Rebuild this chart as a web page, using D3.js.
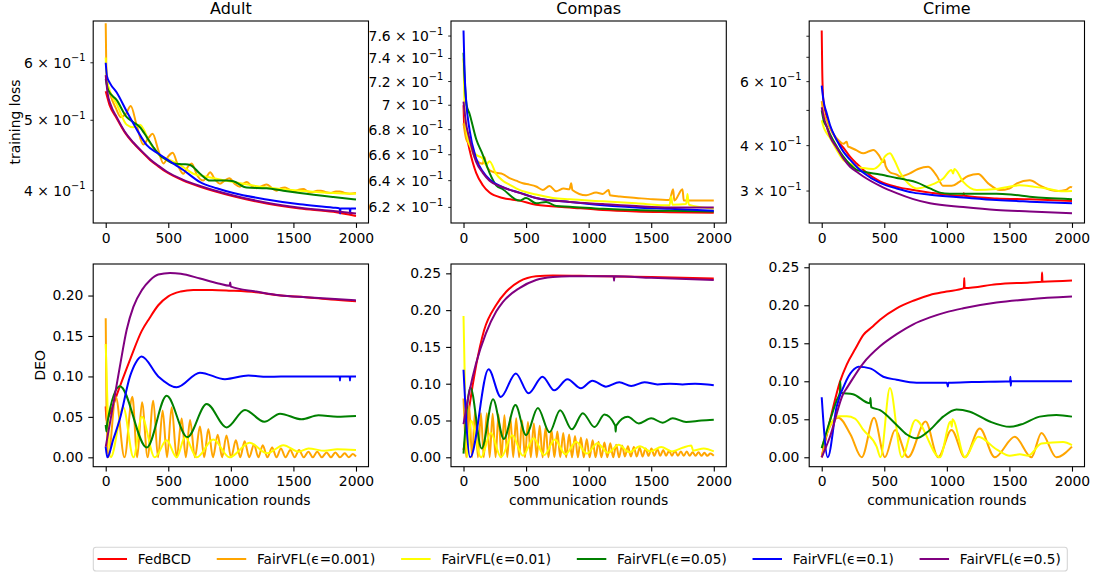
<!DOCTYPE html>
<html lang="en">
<head>
<meta charset="UTF-8">
<script src="https://d3js.org/d3.v7.min.js"></script>
<title>FairVFL</title>
<style>
  body { margin: 0; background: #fff; }
  text { font-family: "DejaVu Sans", sans-serif; fill: #000; }
</style>
</head>
<body>
<script>
  // legend names, panel titles, tick values / labels
  const methods = ['FedBCD', 'FairVFL(\u03f5=0.001)', 'FairVFL(\u03f5=0.01)', 'FairVFL(\u03f5=0.05)', 'FairVFL(\u03f5=0.1)', 'FairVFL(\u03f5=0.5)']
  const datasets = ['Adult', 'Compas', 'Crime']
  const roundTicks = [0, 500, 1000, 1500, 2000]
  const adultLossTicks = [0.4, 0.5, 0.6]
  const adultLossLabels = ['4', '5', '6']
  const compasLossTicks = [0.62, 0.64, 0.66, 0.68, 0.70, 0.72, 0.74, 0.76]
  const compasLossLabels = ['6.2', '6.4', '6.6', '6.8', '7', '7.2', '7.4', '7.6']
  const crimeLossTicks = [0.3, 0.4, 0.5, 0.6, 0.7, 0.8]
  const crimeLossLabels = ['3', '4', '', '6', '', '']
  const adultDeoTicks = [0, 0.05, 0.10, 0.15, 0.20]
  const deoTicks = [0, 0.05, 0.10, 0.15, 0.20, 0.25]

  // ---- training loss, [round, value] ----
  const adultLossFed = [[0,.548],[30,.525],[88,.503],[150,.482],[221,.465],[290,.452],[354,.441],[420,.432],[487,.424],[620,.413],[754,.405],[1020,.393],[1286,.384],[1552,.378],[1819,.374],[2000,.369]]
  const adultLossEps0001 = [[0,.68],[4,.6],[12,.565],[40,.54],[80,.52],[120,.505],[160,.51],[200,.523],[250,.49],[301,.463],[340,.472],[375,.479],[420,.455],[461,.436],[500,.446],[535,.451],[580,.432],[620,.422],[655,.431],[687,.436],[730,.42],[780,.413],[810,.419],[834,.424],[875,.414],[913,.409],[950,.413],[988,.416],[1030,.409],[1073,.405],[1100,.409],[1126,.411],[1166,.406],[1206,.403],[1250,.406],[1286,.408],[1330,.403],[1366,.4],[1400,.403],[1433,.404],[1470,.401],[1500,.399],[1540,.401],[1579,.402],[1615,.399],[1650,.398],[1690,.4],[1720,.4],[1760,.398],[1800,.397],[1840,.399],[1870,.399],[1910,.397],[1950,.396],[2000,.397]]
  const adultLossEps001 = [[0,.61],[8,.57],[40,.545],[88,.526],[168,.493],[221,.489],[274,.493],[354,.465],[434,.447],[487,.443],[620,.431],[700,.422],[807,.418],[1020,.411],[1286,.404],[1552,.4],[1819,.397],[2000,.396]]
  const adultLossEps005 = [[0,.57],[20,.55],[88,.533],[168,.505],[221,.497],[274,.489],[328,.474],[381,.459],[434,.447],[487,.441],[541,.436],[620,.435],[674,.434],[754,.422],[834,.413],[967,.413],[1020,.412],[1126,.404],[1286,.403],[1419,.4],[1552,.397],[1819,.392],[2000,.389]]
  const adultLossEps01 = [[0,.6],[10,.575],[35,.562],[88,.546],[168,.514],[250,.485],[328,.462],[420,.45],[487,.442],[620,.427],[754,.411],[887,.403],[1020,.397],[1286,.389],[1552,.383],[1819,.379],[1870,.378],[1873,.372],[1876,.378],[1950,.378],[1953,.372],[1956,.378],[2000,.378]]
  const adultLossEps05 = [[0,.577],[15,.545],[40,.525],[88,.505],[150,.483],[221,.466],[290,.453],[354,.442],[420,.433],[487,.425],[620,.414],[754,.406],[1020,.394],[1286,.385],[1552,.379],[1819,.375],[2000,.372]]

  const compasLossFed = [[0,.70],[5,.685],[21,.677],[48,.664],[101,.646],[154,.6365],[208,.631],[314,.627],[447,.625],[580,.622],[847,.62],[1113,.618],[1379,.617],[1646,.6165],[2000,.616]]
  const compasLossEps0001 = [[0,.685],[21,.6725],[48,.668],[101,.656],[154,.653],[168,.658],[180,.652],[208,.648],[261,.646],[314,.645],[367,.642],[420,.64],[474,.638],[527,.637],[580,.6356],[634,.633],[687,.636],[740,.632],[800,.634],[847,.6335],[860,.638],[870,.633],[980,.629],[1060,.631],[1113,.63],[1160,.633],[1170,.629],[1250,.628],[1379,.627],[1512,.626],[1646,.6255],[1675,.6335],[1685,.625],[1750,.6335],[1760,.625],[1912,.625],[2000,.625]]
  const compasLossEps001 = [[0,.74],[8,.70],[21,.68],[48,.668],[101,.66],[154,.657],[181,.652],[208,.655],[261,.645],[314,.64],[367,.637],[447,.633],[580,.6295],[714,.627],[847,.626],[1113,.6245],[1379,.623],[1646,.6215],[1660,.628],[1670,.622],[1779,.6225],[1790,.63],[1800,.622],[1912,.62],[2000,.619]]
  const compasLossEps005 = [[0,.745],[10,.72],[25,.70],[48,.693],[101,.6725],[154,.66],[208,.646],[261,.6365],[314,.6335],[447,.625],[500,.627],[580,.623],[660,.624],[740,.621],[847,.6205],[1113,.619],[1379,.618],[1646,.6175],[2000,.617]]
  const compasLossEps01 = [[0,.765],[8,.73],[21,.704],[48,.68],[101,.657],[154,.647],[208,.641],[314,.635],[447,.631],[580,.627],[847,.624],[1113,.6215],[1379,.62],[1646,.619],[2000,.6175]]
  const compasLossEps05 = [[0,.703],[20,.685],[48,.6725],[101,.6545],[154,.646],[208,.64],[314,.635],[447,.6308],[580,.627],[847,.624],[1113,.6225],[1379,.621],[1646,.62],[2000,.62]]

  const crimeLossFed = [[0,.83],[4,.65],[13,.534],[40,.481],[66,.451],[120,.4146],[173,.395],[226,.373],[279,.357],[333,.343],[466,.319],[599,.308],[732,.302],[865,.297],[1131,.291],[1135,.296],[1140,.291],[1397,.286],[1662,.2846],[2000,.2818]]
  const crimeLossEps0001 = [[0,.53],[15,.49],[40,.47],[66,.446],[120,.419],[173,.405],[200,.41],[210,.398],[226,.396],[279,.388],[333,.381],[380,.386],[412,.389],[460,.375],[492,.36],[500,.366],[510,.352],[545,.338],[599,.333],[625,.329],[700,.335],[770,.345],[851,.35],[920,.33],[971,.31],[1040,.31],[1100,.318],[1170,.33],[1250,.334],[1330,.315],[1423,.302],[1500,.305],[1560,.315],[1662,.321],[1750,.31],[1830,.302],[1889,.3],[1950,.302],[1990,.308],[2000,.307]]
  const crimeLossEps001 = [[0,.47],[15,.45],[40,.4325],[66,.42],[120,.389],[173,.365],[226,.357],[279,.35],[333,.347],[412,.345],[466,.355],[510,.375],[545,.381],[580,.365],[625,.338],[690,.315],[758,.305],[865,.311],[971,.325],[1037,.343],[1050,.335],[1060,.345],[1131,.318],[1237,.302],[1397,.304],[1583,.311],[1700,.308],[1795,.305],[1929,.2995],[2000,.3]]
  const crimeLossEps005 = [[0,.50],[15,.47],[40,.451],[66,.43],[120,.398],[173,.373],[226,.355],[279,.343],[333,.339],[466,.333],[599,.326],[678,.322],[758,.317],[865,.305],[944,.297],[1024,.295],[1131,.295],[1397,.295],[1529,.293],[1662,.2895],[1795,.287],[2000,.285]]
  const crimeLossEps01 = [[0,.585],[15,.53],[40,.491],[66,.456],[120,.4146],[173,.385],[226,.366],[279,.35],[333,.337],[466,.316],[599,.305],[732,.297],[865,.293],[1131,.288],[1397,.2834],[1662,.2805],[2000,.2775]]
  const crimeLossEps05 = [[0,.51],[15,.48],[40,.451],[66,.424],[120,.395],[173,.369],[226,.35],[279,.339],[333,.329],[466,.31],[599,.296],[732,.285],[865,.2775],[1131,.271],[1397,.266],[1662,.2635],[2000,.2605]]

  // ---- DEO ----
  const adultDeoFed = [[0,.063],[6,.045],[13,.047],[114,.088],[200,.123],[287,.156],[350,.172],[420,.188],[500,.199],[600,.205],[700,.207],[850,.207],[1000,.206],[1200,.204],[1400,.2],[1600,.198],[1800,.195],[2000,.193]]
  const adultDeoEps0001 = [[0,.172],[6,.06],[20,0],[80,.075],[150,0],[213,.075],[252,0],[290,.068],[335,0],[380,.07],[418,0],[455,.058],[490,0],[527,.062],[567,0],[607,.048],[640,0],[674,.046],[713,0],[753,.038],[787,0],[820,.035],[857,0],[895,.028],[930,0],[965,.027],[1002,0],[1040,.021],[1075,0],[1110,.02],[1147,0],[1185,.016],[1220,0],[1255,.015],[1292,0],[1330,.012],[1365,0],[1400,.011],[1437,0],[1475,.009],[1510,0],[1545,.009],[1582,0],[1620,.007],[1655,0],[1690,.007],[1727,0],[1765,.006],[1800,0],[1835,.006],[1872,0],[1910,.005],[1942,0],[1975,.004],[2000,.001]]
  const adultDeoEps001 = [[0,.14],[15,.06],[40,0],[140,.062],[222,0],[288,.05],[392,0],[487,.021],[567,0],[634,.025],[727,0],[860,.022],[990,0],[1150,.018],[1290,.005],[1420,.015],[1540,.007],[1620,.011],[1750,.008],[1850,.01],[2000,.009]]
  const adultDeoEps005 = [[0,.04],[5,.032],[12,.042],[114,.088],[328,.012],[487,.076],[652,.025],[807,.066],[967,.037],[1113,.0585],[1267,.044],[1393,.054],[1566,.047],[1700,.052],[1850,.05],[2000,.051]]
  const adultDeoEps01 = [[0,.013],[13,0],[60,.022],[114,.048],[194,.1],[240,.117],[287,.1245],[420,.1],[567,.0866],[753,.1047],[953,.0966],[1140,.1012],[1290,.0995],[1400,.1],[1870,.1],[1872,.095],[1874,.1],[1950,.1],[1952,.095],[1954,.1],[2000,.1]]
  const adultDeoEps05 = [[0,.013],[61,.066],[114,.113],[168,.158],[221,.186],[290,.207],[354,.219],[420,.226],[514,.228],[600,.227],[754,.221],[900,.215],[990,.212],[995,.216],[1000,.211],[1200,.205],[1400,.2],[1600,.198],[1800,.196],[2000,.194]]

  const compasDeoFed = [[0,.01],[10,.02],[48,.07],[101,.125],[165,.173],[261,.207],[341,.225],[447,.239],[580,.246],[714,.247],[1000,.2465],[1500,.245],[2000,.243]]
  const compasDeoEps0001 = [[0,.08],[10,.04],[22,0],[45,.07],[68,0],[92,.062],[115,0],[139,.06],[162,0],[186,.06],[209,0],[233,.059],[256,0],[280,.058],[303,0],[327,.057],[350,0],[374,.055],[397,0],[421,.053],[444,0],[468,.05],[491,0],[515,.048],[538,0],[562,.046],[585,0],[609,.043],[632,0],[656,.04],[679,0],[703,.037],[726,0],[750,.035],[773,0],[797,.033],[820,0],[844,.031],[867,0],[891,.029],[914,0],[938,.027],[961,0],[985,.025],[1008,0],[1032,.023],[1055,0],[1079,.021],[1102,0],[1126,.02],[1149,0],[1173,.019],[1196,0],[1220,.017],[1243,0],[1267,.016],[1290,.001],[1314,.015],[1337,.001],[1361,.014],[1384,.001],[1408,.013],[1431,.001],[1455,.012],[1478,.002],[1502,.012],[1525,.002],[1549,.011],[1572,.002],[1596,.01],[1619,.002],[1643,.009],[1666,.002],[1690,.009],[1713,.002],[1737,.008],[1760,.002],[1784,.008],[1807,.002],[1831,.007],[1854,.002],[1878,.007],[1901,.002],[1925,.006],[1948,.002],[1972,.005],[2000,.002]]
  const compasDeoEps001 = [[0,.192],[12,.09],[28,0],[60,.05],[140,0],[218,.033],[300,0],[390,.03],[475,.002],[560,.026],[645,.003],[730,.024],[815,.004],[900,.021],[985,.005],[1070,.019],[1155,.006],[1240,.017],[1325,.007],[1410,.015],[1495,.008],[1580,.014],[1665,.008],[1750,.013],[1820,.016],[1835,.009],[1920,.012],[2000,.008]]
  const compasDeoEps005 = [[0,.005],[55,.095],[145,.012],[236,.079],[322,.025],[415,.071],[500,.03],[594,.067],[687,.034],[772,.064],[866,.038],[953,.06],[1047,.041],[1126,.058],[1212,.043],[1216,.035],[1220,.043],[1313,.055],[1400,.046],[1500,.053],[1592,.047],[1672,.053],[1779,.048],[1900,.05],[2000,.051]]
  const compasDeoEps01 = [[0,.119],[53,0],[200,.1196],[298,.082],[418,.114],[520,.087],[631,.1096],[725,.091],[831,.106],[938,.0937],[1030,.104],[1138,.096],[1245,.102],[1340,.097],[1446,.102],[1550,.099],[1650,.1],[1750,.099],[1850,.1],[1950,.099],[2000,.098]]
  const compasDeoEps05 = [[0,.045],[48,.09],[101,.128],[178,.168],[261,.198],[314,.211],[447,.23],[580,.241],[714,.245],[850,.246],[1200,.246],[1203,.24],[1206,.246],[1500,.244],[2000,.241]]

  const crimeDeoFed = [[0,0],[40,.03],[80,.058],[146,.0995],[200,.122],[270,.143],[333,.161],[400,.171],[466,.181],[599,.196],[732,.206],[865,.2136],[998,.218],[1136,.2225],[1139,.236],[1142,.2226],[1397,.2276],[1663,.23],[1758,.231],[1761,.243],[1764,.231],[2000,.2325]]
  const crimeDeoEps0001 = [[0,0],[40,.03],[133,.052],[230,.03],[320,0],[418,.052],[505,0],[586,.036],[690,0],[830,.047],[931,0],[1037,.036],[1144,0],[1263,.038],[1383,0],[1543,.027],[1676,0],[1756,.032],[1875,0],[2000,.014]]
  const crimeDeoEps001 = [[0,.012],[60,.04],[133,.054],[200,.054],[266,.051],[333,.036],[439,.014],[470,0],[545,.091],[640,0],[750,.049],[944,0],[1030,.047],[1040,.04],[1045,.05],[1144,0],[1250,.027],[1400,.01],[1503,.002],[1583,.004],[1650,.002],[1756,.018],[1929,.02],[2000,.016]]
  const crimeDeoEps005 = [[0,.012],[60,.045],[120,.075],[146,.086],[148,.1],[152,.085],[250,.083],[386,.071],[390,.078],[395,.066],[466,.062],[599,.0425],[680,.03],[758,.025],[865,.036],[971,.0535],[1077,.063],[1184,.06],[1343,.047],[1503,.04],[1609,.044],[1742,.0535],[1875,.0557],[2000,.0535]]
  const crimeDeoEps01 = [[0,.079],[48,0],[120,.067],[200,.102],[260,.116],[293,.119],[386,.117],[492,.106],[599,.102],[758,.098],[1000,.098],[1008,.093],[1012,.098],[1200,.099],[1505,.1],[1508,.106],[1511,.094],[1514,.1],[2000,.1]]
  const crimeDeoEps05 = [[0,0],[66,.027],[173,.084],[200,.091],[333,.124],[466,.146],[599,.162],[732,.175],[865,.184],[998,.191],[1131,.196],[1397,.2035],[1663,.208],[2000,.2114]]

  // ---- layout ----
  let width = 1094
  let height = 573
  let colors = ['red', 'orange', 'yellow', 'green', 'blue', 'purple']
  let colX = [93.2, 451, 809.2]
  let panelW = 275.3
  let rowY = [[21, 223], [264, 466.7]]
  let fs = 13.9

  let panels = [
    { col: 0, row: 0, log: true, lim: [0.361, 0.685], ticks: adultLossTicks, labels: adultLossLabels,
      series: [adultLossFed, adultLossEps0001, adultLossEps001, adultLossEps005, adultLossEps01, adultLossEps05] },
    { col: 1, row: 0, log: true, lim: [0.6086, 0.7737], ticks: compasLossTicks, labels: compasLossLabels,
      series: [compasLossFed, compasLossEps0001, compasLossEps001, compasLossEps005, compasLossEps01, compasLossEps05] },
    { col: 2, row: 0, log: true, lim: [0.245, 0.881], ticks: crimeLossTicks, labels: crimeLossLabels,
      series: [crimeLossFed, crimeLossEps0001, crimeLossEps001, crimeLossEps005, crimeLossEps01, crimeLossEps05] },
    { col: 0, row: 1, log: false, lim: [-0.0116, 0.239], ticks: adultDeoTicks,
      series: [adultDeoFed, adultDeoEps0001, adultDeoEps001, adultDeoEps005, adultDeoEps01, adultDeoEps05] },
    { col: 1, row: 1, log: false, lim: [-0.0128, 0.2627], ticks: deoTicks,
      series: [compasDeoFed, compasDeoEps0001, compasDeoEps001, compasDeoEps005, compasDeoEps01, compasDeoEps05] },
    { col: 2, row: 1, log: false, lim: [-0.0124, 0.2543], ticks: deoTicks,
      series: [crimeDeoFed, crimeDeoEps0001, crimeDeoEps001, crimeDeoEps005, crimeDeoEps01, crimeDeoEps05] }
  ]

  let svg = d3.select('body')
    .append('svg')
    .attr('width', width)
    .attr('height', height)

  svg.append('rect').attr('width', width).attr('height', height).attr('fill', '#fff')

  panels.forEach((p, k) => {
    let left = colX[p.col]
    let top = rowY[p.row][0]
    let bottom = rowY[p.row][1]

    let x = d3.scaleLinear().domain([-100, 2100]).range([left, left + panelW])
    let y = (p.log ? d3.scaleLog() : d3.scaleLinear()).domain(p.lim).range([bottom, top])

    svg.append('clipPath').attr('id', 'clip' + k)
      .append('rect')
      .attr('x', left).attr('y', top)
      .attr('width', panelW).attr('height', bottom - top)

    let line = d3.line()
      .x(d => x(d[0]))
      .y(d => y(d[1]))
      .curve(d3.curveMonotoneX)

    let g = svg.append('g').attr('clip-path', `url(#clip${k})`)
    p.series.forEach((s, i) => {
      g.append('path')
        .attr('d', line(s))
        .attr('fill', 'none')
        .attr('stroke', colors[i])
        .attr('stroke-width', 2)
        .attr('stroke-linejoin', 'round')
    })

    // x axis
    let xAxis = svg.append('g')
      .attr('transform', `translate(0,${bottom})`)
      .call(d3.axisBottom(x).tickValues(roundTicks).tickSize(4.9).tickPadding(4.9).tickFormat(d3.format('d')))
    xAxis.select('.domain').remove()
    xAxis.selectAll('line').attr('stroke', '#000').attr('stroke-width', 1.1)
    xAxis.selectAll('text').attr('font-size', fs).attr('font-family', 'DejaVu Sans')

    // y axis
    if (p.log) {
      // minor log ticks, labels like 6 x 10^-1
      let ya = svg.append('g')
      p.ticks.forEach((v, i) => {
        ya.append('line')
          .attr('x1', left).attr('x2', left - 2.8)
          .attr('y1', y(v)).attr('y2', y(v))
          .attr('stroke', '#000').attr('stroke-width', 0.85)
        if (p.labels[i] === '') return
        let t = ya.append('text')
          .attr('x', left - 7.7)
          .attr('y', y(v))
          .attr('dy', '0.36em')
          .attr('text-anchor', 'end')
          .attr('font-size', fs)
        t.append('tspan').text(p.labels[i] + ' \u00d7 10')
        t.append('tspan').attr('dy', -6.3).attr('font-size', 9.8).text('\u22121')
      })
    } else {
      let ya = svg.append('g')
        .attr('transform', `translate(${left},0)`)
        .call(d3.axisLeft(y).tickValues(p.ticks).tickSize(4.9).tickPadding(4.9).tickFormat(d3.format('.2f')))
      ya.select('.domain').remove()
      ya.selectAll('line').attr('stroke', '#000').attr('stroke-width', 1.1)
      ya.selectAll('text').attr('font-size', fs).attr('font-family', 'DejaVu Sans')
    }

    // frame
    svg.append('rect')
      .attr('x', left).attr('y', top)
      .attr('width', panelW).attr('height', bottom - top)
      .attr('fill', 'none')
      .attr('stroke', '#000')
      .attr('stroke-width', 1.1)

    if (p.row === 0) {
      svg.append('text')
        .attr('x', left + panelW / 2)
        .attr('y', top - 7.4)
        .attr('text-anchor', 'middle')
        .attr('font-size', 16)
        .text(datasets[p.col])
    } else {
      svg.append('text')
        .attr('x', left + panelW / 2)
        .attr('y', 505)
        .attr('text-anchor', 'middle')
        .attr('font-size', fs)
        .text('communication rounds')
    }
  })

  // y labels on the left column
  svg.append('text')
    .attr('transform', `translate(15,${(rowY[0][0] + rowY[0][1]) / 2}) rotate(-90)`)
    .attr('text-anchor', 'middle')
    .attr('dy', '0.35em')
    .attr('font-size', fs)
    .text('training loss')

  svg.append('text')
    .attr('transform', `translate(40,${(rowY[1][0] + rowY[1][1]) / 2}) rotate(-90)`)
    .attr('text-anchor', 'middle')
    .attr('dy', '0.35em')
    .attr('font-size', fs)
    .text('DEO')

  // legend: one row, columns spread over the box width
  let boxL = 93.3
  let boxR = 1067.3
  let ly = 559
  let handle = 29.5
  let gap = 10.8
  let legend = svg.append('g')
  let items = methods.map((m, i) => {
    let t = legend.append('text')
      .attr('y', ly)
      .attr('dy', '0.35em')
      .attr('font-size', 13.6)
      .text(m)
    return { t: t, w: handle + gap + t.node().getComputedTextLength(), i: i }
  })
  let inner = boxR - boxL - 4.2 - 6.5
  let spacing = (inner - d3.sum(items, d => d.w)) / (items.length - 1)
  let lx = boxL + 4.2
  items.forEach(d => {
    legend.append('line')
      .attr('x1', lx).attr('x2', lx + handle)
      .attr('y1', ly).attr('y2', ly)
      .attr('stroke', colors[d.i])
      .attr('stroke-width', 2)
    d.t.attr('x', lx + handle + gap)
    lx += d.w + spacing
  })
  legend.insert('rect', ':first-child')
    .attr('x', boxL).attr('y', 547.3)
    .attr('width', boxR - boxL).attr('height', 23.7)
    .attr('rx', 2.8)
    .attr('fill', '#fff')
    .attr('stroke', '#d5d5d5')
    .attr('stroke-width', 1.1)
</script>
</body>
</html>
